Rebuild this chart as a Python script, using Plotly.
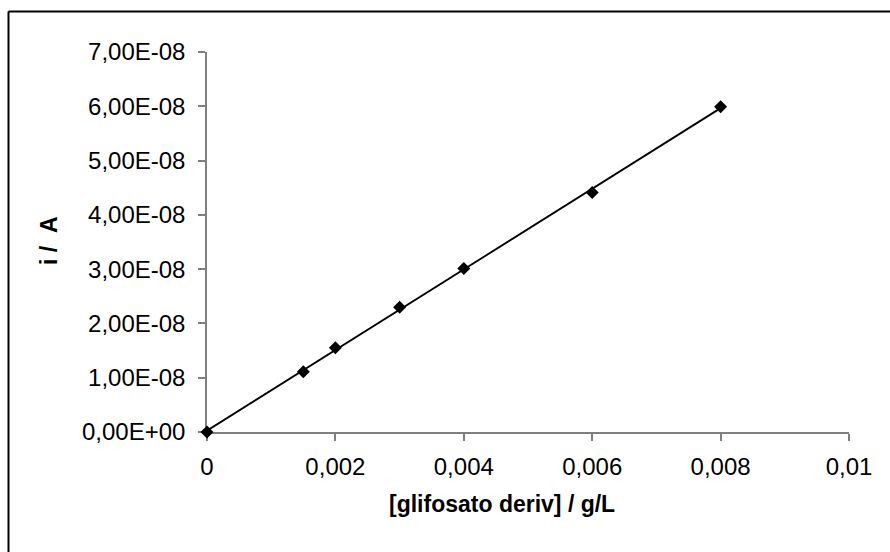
import numpy as np
import plotly.graph_objects as go

# Data
conc = [0, 0.0015, 0.002, 0.003, 0.004, 0.006, 0.008]
current = [0, 1.11e-8, 1.55e-8, 2.30e-8, 3.01e-8, 4.41e-8, 5.99e-8]

x_tickvals = [0, 0.002, 0.004, 0.006, 0.008, 0.01]
x_ticktext = ["0", "0,002", "0,004", "0,006", "0,008", "0,01"]
y_tickvals = [0, 1e-8, 2e-8, 3e-8, 4e-8, 5e-8, 6e-8, 7e-8]
y_ticktext = ["0,00E+00", "1,00E-08", "2,00E-08", "3,00E-08",
              "4,00E-08", "5,00E-08", "6,00E-08", "7,00E-08"]

x_title = "[glifosato deriv] / g/L"
y_title = "i&nbsp;/&nbsp;&nbsp;A"

# Linear trendline (least squares) over the data range
slope, intercept = np.polyfit(conc, current, 1)
trend_x = [min(conc), max(conc)]
trend_y = [slope * v + intercept for v in trend_x]

W, H = 890, 552
L, R, T, B = 207, 41, 52, 120
pw, ph = W - L - R, H - T - B

def px(xp):
    return (xp - L) / pw

def py(yp):
    return (H - B - yp) / ph

fig = go.Figure()
fig.add_trace(go.Scatter(x=trend_x, y=trend_y, mode="lines",
                         line=dict(color="black", width=1.8),
                         hoverinfo="skip", showlegend=False))
fig.add_trace(go.Scatter(x=conc, y=current, mode="markers",
                         marker=dict(symbol="diamond", size=10, color="black"),
                         showlegend=False, cliponaxis=False))

font_family = "Liberation Sans, Arial, sans-serif"
tick_size = 24

fig.update_layout(
    width=W, height=H,
    margin=dict(l=L, r=R, t=T, b=B),
    paper_bgcolor="white", plot_bgcolor="white",
    font=dict(family=font_family, color="black", size=tick_size),
    showlegend=False,
    xaxis=dict(range=[0, 0.01], tickvals=x_tickvals, ticktext=x_ticktext,
               showgrid=False, zeroline=False, showline=True,
               linecolor="#808080", linewidth=1.5, layer="below traces",
               ticks="outside", ticklen=7, tickcolor="#808080", tickwidth=1.5,
               ticklabelstandoff=5,
               tickfont=dict(size=tick_size, family=font_family, color="black")),
    yaxis=dict(range=[0, 7e-8], tickvals=y_tickvals, ticktext=y_ticktext,
               showgrid=False, zeroline=False, showline=True,
               linecolor="#808080", linewidth=1.5, layer="below traces",
               ticks="outside", ticklen=7, tickcolor="#808080", tickwidth=1.5,
               ticklabelstandoff=8,
               tickfont=dict(size=tick_size, family=font_family, color="black")),
    annotations=[
        dict(text="<b>" + x_title + "</b>", xref="paper", yref="paper",
             x=px(502), y=py(504), showarrow=False,
             xanchor="center", yanchor="middle",
             font=dict(size=23, family=font_family, color="black")),
        dict(text="<b>" + y_title + "</b>", xref="paper", yref="paper",
             x=px(49), y=py(241), showarrow=False, textangle=-90,
             xanchor="center", yanchor="middle",
             font=dict(size=23, family=font_family, color="black")),
    ],
    shapes=[
        dict(type="line", xref="paper", yref="paper",
             x0=px(8.5), x1=px(W + 5), y0=py(11.5), y1=py(11.5),
             line=dict(color="black", width=2)),
        dict(type="line", xref="paper", yref="paper",
             x0=px(8.5), x1=px(8.5), y0=py(11.5), y1=py(H + 5),
             line=dict(color="black", width=2)),
    ],
)

fig.write_html("out.html")
